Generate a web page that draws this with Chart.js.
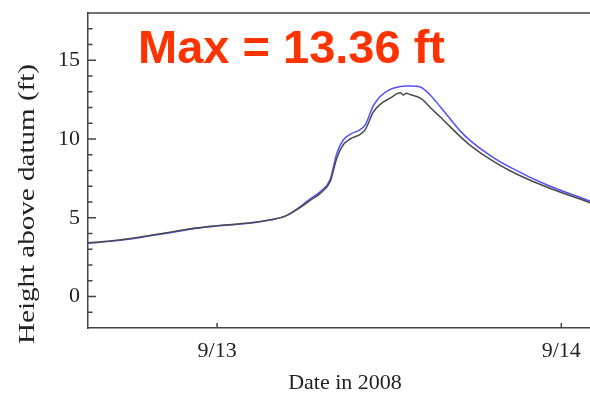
<!DOCTYPE html>
<html>
<head>
<meta charset="utf-8">
<script src="https://cdn.jsdelivr.net/npm/chart.js@4.4.1/dist/chart.umd.min.js"></script>
<style>
html, body { margin: 0; padding: 0; background: #fff; }
#wrap { width: 590px; height: 404px; }
</style>
</head>
<body>
<div id="wrap"><canvas id="grafico" width="590" height="404"></canvas></div>
<script>
// hours after 9/13 00:00
const hours = [-9.0, -7.47, -6.07, -4.68, -3.28, -1.54, 0, 1.6, 2.65, 3.7, 4.75, 5.79, 6.49, 7.19, 7.89, 8.35, 8.81, 9.28, 9.98, 10.33, 10.89, 11.37, 12.07, 12.77, 12.98, 13.19, 13.47, 14.17, 14.5, 14.86, 15.56, 16.96, 17.65, 19.05, 20.45, 22.89, 26.03];
const alturaAzul = [3.38, 3.5, 3.65, 3.85, 4.05, 4.32, 4.48, 4.6, 4.7, 4.85, 5.1, 5.7, 6.2, 6.65, 7.45, 9.1, 9.95, 10.3, 10.6, 10.9, 12.1, 12.7, 13.15, 13.33, 13.35, 13.36, 13.36, 13.3, 13.1, 12.8, 12.05, 10.5, 9.9, 8.95, 8.2, 7.13, 6.05];
const alturaPreta = [3.41, 3.53, 3.68, 3.88, 4.08, 4.35, 4.5, 4.62, 4.72, 4.87, 5.1, 5.65, 6.1, 6.55, 7.3, 8.8, 9.65, 10.0, 10.3, 10.6, 11.7, 12.2, 12.6, 12.94, 12.8, 12.9, 12.82, 12.6, 12.35, 12.0, 11.4, 10.15, 9.6, 8.7, 7.97, 6.98, 5.95];

const diasTicks = [0, 24];
const diasLabels = ['9/13', '9/14'];
const alturaTicks = [0, 5, 10, 15];
const alturaMenores = [-1, 1, 2, 3, 4, 6, 7, 8, 9, 11, 12, 13, 14, 16, 17];
const textoMax = 'Max = 13.36 ft';
const tituloX = 'Date in 2008';
const tituloY = 'Height above datum (ft)';

const serif = '"Liberation Serif", "DejaVu Serif", serif';
const corEixo = '#444';

const pontos = serie => hours.map((h, i) => ({ x: h, y: serie[i] }));

const extras = {
    id: 'extras',
    afterDraw(chart) {
        const ctx = chart.ctx;
        const area = chart.chartArea;
        const sx = chart.scales.x;
        const sy = chart.scales.y;
        ctx.save();
        ctx.strokeStyle = corEixo;
        ctx.lineWidth = 1.5;
        ctx.beginPath();
        ctx.moveTo(area.left, area.top);
        ctx.lineTo(area.right, area.top);
        alturaTicks.forEach(v => {
            const y = sy.getPixelForValue(v);
            ctx.moveTo(area.left, y);
            ctx.lineTo(area.left + 8, y);
        });
        alturaMenores.forEach(v => {
            const y = sy.getPixelForValue(v);
            ctx.moveTo(area.left, y);
            ctx.lineTo(area.left + 4.5, y);
        });
        diasTicks.forEach(v => {
            const x = sx.getPixelForValue(v);
            ctx.moveTo(x, area.bottom);
            ctx.lineTo(x, area.bottom - 5);
        });
        ctx.stroke();

        ctx.fillStyle = '#ff3300';
        ctx.font = 'bold 47px "Liberation Sans", Arial, sans-serif';
        ctx.textAlign = 'left';
        ctx.textBaseline = 'alphabetic';
        ctx.fillText(textoMax, 138, 63);

        ctx.fillStyle = '#222';
        ctx.font = '22px ' + serif;
        ctx.textAlign = 'center';
        ctx.textBaseline = 'middle';
        ctx.fillText(tituloX, 345, 383);

        // y title is drawn stretched along its length, as in the original figure
        ctx.font = '23px ' + serif;
        const w = ctx.measureText(tituloY).width;
        ctx.translate(28, 204);
        ctx.rotate(-Math.PI / 2);
        ctx.scale(280 / w, 1);
        ctx.fillText(tituloY, 0, 0);
        ctx.restore();
    }
};

new Chart(document.getElementById('grafico'), {
    type: 'line',
    data: {
        datasets: [
            { label: 'azul', data: pontos(alturaAzul), borderColor: '#5050ff', borderWidth: 1.5, pointRadius: 0, cubicInterpolationMode: 'monotone', order: 2 },
            { label: 'preta', data: pontos(alturaPreta), borderColor: '#4a4a4a', borderWidth: 1.5, pointRadius: 0, cubicInterpolationMode: 'monotone', order: 1 }
        ]
    },
    options: {
        responsive: false,
        animation: false,
        devicePixelRatio: 1,
        layout: { padding: { top: 13, right: 0, left: 0, bottom: 0 } },
        plugins: { legend: { display: false }, tooltip: { enabled: false } },
        scales: {
            x: {
                type: 'linear',
                min: -9,
                max: 26,
                afterFit: s => { s.height = 76; s.paddingLeft = 0; s.paddingRight = 0; },
                afterBuildTicks: s => { s.ticks = diasTicks.map(v => ({ value: v })); },
                grid: { display: false, drawTicks: false },
                border: { display: true, color: corEixo, width: 1.5 },
                ticks: {
                    padding: 10,
                    color: '#222',
                    font: { family: serif, size: 22 },
                    maxRotation: 0,
                    callback: v => diasLabels[diasTicks.indexOf(v)]
                }
            },
            y: {
                min: -2,
                max: 18,
                afterFit: s => { s.width = 88; s.paddingTop = 0; s.paddingBottom = 0; },
                afterBuildTicks: s => { s.ticks = alturaTicks.map(v => ({ value: v })); },
                grid: { display: false, drawTicks: false },
                border: { display: true, color: corEixo, width: 1.5 },
                ticks: {
                    padding: 8,
                    color: '#222',
                    font: { family: serif, size: 22 }
                }
            }
        }
    },
    plugins: [extras]
});
</script>
</body>
</html>
